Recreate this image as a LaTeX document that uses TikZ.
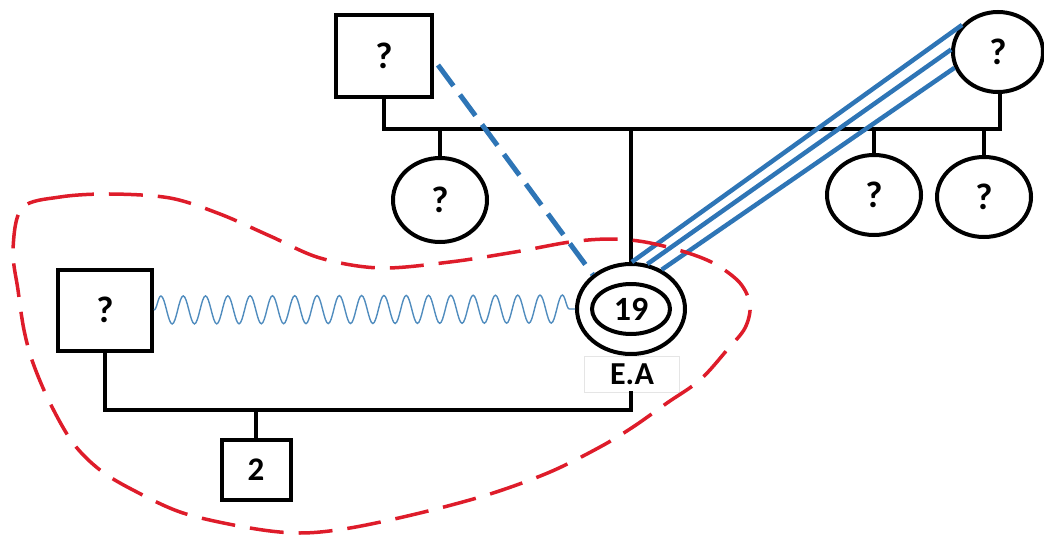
\documentclass[tikz,border=0pt]{standalone}
\usepackage{fontspec}
\setmainfont{Carlito}
\usetikzlibrary{shapes.geometric,decorations.pathmorphing,calc}
\definecolor{pblue}{RGB}{46,117,182}
\definecolor{wblue}{RGB}{80,140,190}
\definecolor{pred}{RGB}{222,28,42}
\begin{document}
\begin{tikzpicture}[x=1pt,y=-1pt,
  person/.style={draw, line width=4pt, fill=white, inner sep=0pt,
    font=\bfseries\fontsize{37}{39}\selectfont},
  female/.style={person, ellipse},
  tie/.style={line width=3.5pt, line cap=rect},
  triple/.style={pblue, line width=4.5pt},
]
\useasboundingbox (0,0) rectangle (1044,538);

% nodes
\node[person, rectangle, minimum width=96pt, minimum height=82pt] (fa) at (384,56) {?};
\node[female, minimum width=90pt, minimum height=80pt] (mo) at (998,52) {?};
\node[female, minimum width=94pt, minimum height=84pt] (c1) at (440,200) {?};
\node[female, minimum width=94pt, minimum height=80pt] (c2) at (874,195) {?};
\node[female, minimum width=94pt, minimum height=80pt] (c3) at (984,197) {?};
\node[female, minimum width=108pt, minimum height=90pt] (ea) at (631,309) {};
\node[female, minimum width=78pt, minimum height=50pt,
  font=\bfseries\fontsize{34}{36}\selectfont] (eain) at (631,309) {19};
\node[draw=black!10, line width=0.6pt, fill=white, minimum width=95pt, minimum height=36pt,
  inner sep=0pt, font=\bfseries\fontsize{32}{34}\selectfont] (eal) at (632,374) {E.A};
\node[person, rectangle, minimum width=94pt, minimum height=81pt] (hu) at (105,310) {?};
\node[person, rectangle, minimum width=69pt, minimum height=60pt,
  font=\bfseries\fontsize{33}{35}\selectfont] (ch) at (256,470) {2};

% sibship
\coordinate (bl) at (384,129);
\coordinate (br) at (1000,129);
\draw[tie] (fa.south) -- (bl) -- (br) -- (br |- mo.south);
\draw[tie] (c1.north) -- (c1.north |- bl);
\draw[tie] (c2.north) -- (c2.north |- bl);
\draw[tie] (c3.north) -- (c3.north |- bl);
\draw[tie] (ea.north) -- (ea.north |- bl);

% lower family
\coordinate (ml) at (105,410);
\coordinate (mr) at (631,410);
\draw[tie] (hu.south) -- (ml) -- (mr) -- (mr |- eal.south);
\draw[tie] (ch.north) -- (ch.north |- ml);

% relationships
\draw[wblue, line width=1.4pt, decorate,
  decoration={snake, amplitude=14pt, segment length=22.3pt}] (hu.east) -- (ea.west);
\draw[pblue, line width=5pt, dash pattern=on 26pt off 11pt] ($(fa.east)+(4,9)$) -- (ea.138);
\draw[triple] (mo.143) -- (ea.89);
\draw[triple] (mo.177) -- (ea.70);
\draw[triple] (mo.200) -- (ea.52);

% red boundary
\draw[pred, line width=3.5pt, dash pattern=on 34pt off 15pt]
  plot[smooth cycle, tension=0.55] coordinates {
   (22,208) (60,197) (110,194) (170,198) (220,214) (270,236) (320,258)
   (380,268) (450,262) (515,252) (570,242) (610,239) (645,242) (685,252)
   (715,264) (740,283) (750,305) (745,328) (727,350) (700,380) (667,403)
   (633,427) (600,447) (550,472) (490,494) (420,513) (350,528) (300,533)
   (250,528) (183,513) (133,490) (100,470) (73,443) (50,403) (33,363)
   (24,330) (18,290) (13,250)};
\end{tikzpicture}
\end{document}
